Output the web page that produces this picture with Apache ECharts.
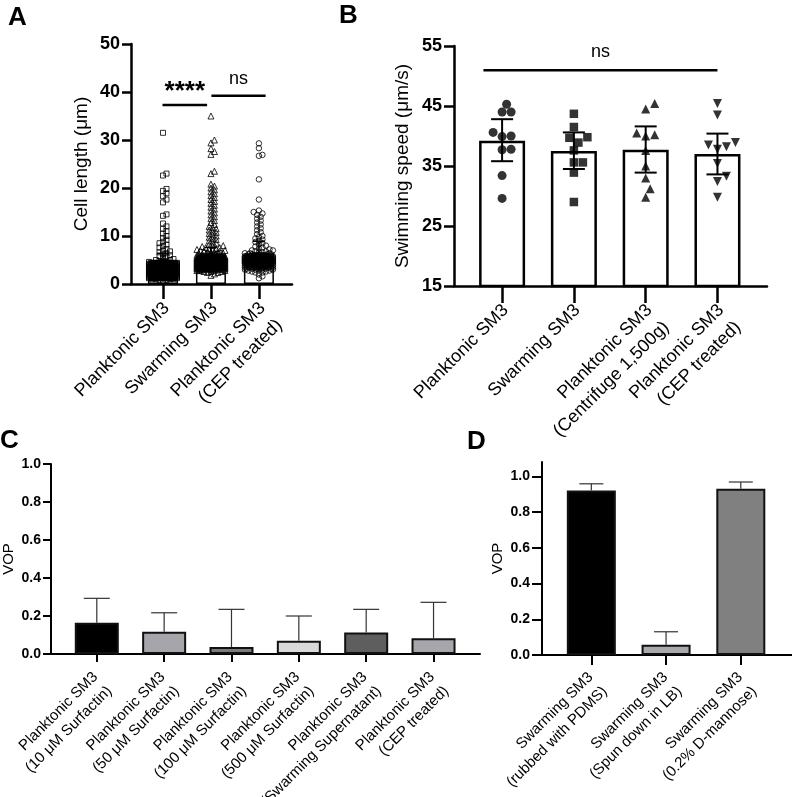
<!DOCTYPE html>
<html><head><meta charset="utf-8">
<script src="https://cdn.jsdelivr.net/npm/echarts@6/dist/echarts.min.js"></script>
<style>html,body{margin:0;padding:0;background:#fff}#c{width:792px;height:797px}</style>
</head><body><div id="c"></div>
<script>
// ---------- Panel A: cell length ----------
const catsA = ['Planktonic SM3', 'Swarming SM3', 'Planktonic SM3\n(CEP treated)'];
const meansA = [3.9, 5.3, 5.5];
const sdTopA = [6.4, 7.6, 8.9];
// [value, count]
const planktonicLen = [[0.6,1],[0.8,2],[1.0,4],[1.2,10],[1.3,14],[1.4,20],[1.6,22],[1.8,24],[2.0,24],[2.2,24],[2.4,24],[2.6,24],[2.8,24],[3.0,24],[3.2,24],[3.4,24],[3.6,24],[3.8,24],[4.0,22],[4.2,20],[4.4,16],[4.6,4],[4.8,2],[5.0,2],[5.2,1],[5.4,1],[5.6,1],[5.8,1],[6.0,1],[6.2,1],[6.4,1],[6.6,1],[6.8,1],[7.0,1],[7.3,1],[7.6,1],[7.9,1],[8.2,1],[8.5,1],[8.8,1],[9.2,1],[9.6,1],[10.0,1],[10.5,1],[11.0,1],[11.5,1],[12.0,1],[12.6,1],[14.2,1],[14.5,1],[17.0,1],[17.6,1],[18.3,1],[18.9,1],[19.4,1],[19.8,1],[22.6,1],[23.0,1],[31.5,1]];
const swarmingLen = [[1.8,1],[2.1,1],[2.4,2],[2.6,3],[2.8,4],[3.0,6],[3.2,10],[3.4,20],[3.6,24],[3.8,24],[4.0,24],[4.2,24],[4.4,24],[4.6,24],[4.8,24],[5.0,24],[5.2,24],[5.4,24],[5.6,22],[5.8,16],[6.0,6],[6.2,4],[6.4,3],[6.6,3],[6.8,2],[7.0,2],[7.2,2],[7.4,2],[7.6,2],[7.8,1],[8.0,2],[8.25,1],[8.5,1],[8.75,1],[9.0,1],[9.25,1],[9.5,1],[9.75,1],[10.0,1],[10.25,1],[10.5,1],[10.75,1],[11.0,1],[11.25,1],[11.5,1],[11.75,1],[12.0,1],[12.4,1],[12.8,1],[13.2,1],[13.6,1],[14.0,1],[14.4,1],[14.8,1],[15.2,1],[15.6,1],[16.0,1],[16.4,1],[16.8,1],[17.2,1],[17.6,1],[18.0,1],[18.4,1],[18.8,1],[19.2,1],[19.6,1],[20.0,1],[20.4,1],[20.8,1],[23.0,1],[23.5,1],[27.0,1],[27.6,1],[28.2,1],[29.4,1],[30.0,1],[35.0,1]];
const cepLen = [[1.2,1],[1.6,1],[2.0,1],[2.4,2],[2.6,2],[2.8,3],[3.0,4],[3.2,6],[3.4,8],[3.6,10],[3.8,12],[4.0,14],[4.2,18],[4.4,22],[4.6,24],[4.8,24],[5.0,24],[5.2,24],[5.4,24],[5.6,24],[5.8,22],[6.0,8],[6.2,4],[6.4,3],[6.6,2],[6.8,2],[7.0,2],[7.2,1],[7.4,1],[7.6,1],[7.8,1],[8.0,1],[8.25,1],[8.5,1],[8.75,1],[9.0,1],[9.25,1],[9.5,1],[9.75,1],[10.0,1],[10.4,1],[10.8,1],[11.2,1],[11.6,1],[12.0,1],[12.4,1],[12.8,1],[13.2,1],[13.6,1],[14.0,1],[14.4,1],[14.7,1],[15.0,1],[15.3,1],[17.6,1],[21.8,1],[26.7,1],[26.9,1],[28.3,1],[29.3,1]];
const ticksA = [0, 10, 20, 30, 40, 50];

// ---------- Panel B: swimming speed ----------
const catsB = ['Planktonic SM3', 'Swarming SM3', 'Planktonic SM3\n(Centrifuge 1,500g)', 'Planktonic SM3\n(CEP treated)'];
const meansB = [39.2, 37.5, 37.7, 37.0];
const sdLowB = [35.8, 34.5, 33.9, 33.6];
const sdHighB = [42.8, 40.6, 41.6, 40.4];
const speedPlanktonic = [45.3, 44.0, 44.0, 40.6, 39.9, 40.0, 37.8, 37.7, 33.4, 29.6];
const speedSwarming = [43.7, 41.5, 39.8, 39.7, 38.9, 37.6, 35.6, 35.6, 33.9, 29.0];
const speedCentrifuge = [45.4, 44.5, 40.5, 40.2, 40.0, 37.6, 35.0, 33.0, 31.2, 29.8];
const speedCEP = [45.4, 43.5, 38.9, 38.5, 38.2, 37.8, 35.4, 33.3, 32.4, 29.8];
const ticksB = [15, 25, 35, 45, 55];

// ---------- Panel C: VOP ----------
const catsC = ['Planktonic SM3\n(10 μM Surfactin)', 'Planktonic SM3\n(50 μM Surfactin)', 'Planktonic SM3\n(100 μM Surfactin)', 'Planktonic SM3\n(500 μM Surfactin)', 'Planktonic SM3\n(Swarming Supernatant)', 'Planktonic SM3\n(CEP treated)'];
const vopC = [0.165, 0.117, 0.037, 0.070, 0.113, 0.083];
const vopErrC = [0.293, 0.217, 0.235, 0.200, 0.235, 0.272];
const colorsC = ['#000000', '#a6a6aa', '#7b7b7b', '#d9d9d9', '#5e5e5e', '#a6a6ab'];

// ---------- Panel D: VOP ----------
const catsD = ['Swarming SM3\n(rubbed with PDMS)', 'Swarming SM3\n(Spun down in LB)', 'Swarming SM3\n(0.2% D-mannose)'];
const vopD = [0.920, 0.058, 0.930];
const vopErrD = [0.958, 0.130, 0.968];
const colorsD = ['#000000', '#a9a9ae', '#808080'];
const ticksCD = [0, 0.2, 0.4, 0.6, 0.8, 1.0];

// ---------- helpers ----------
const FONT = 'Liberation Sans, Arial, Helvetica, sans-serif';
function expand(bins) { const o = []; bins.forEach(([v, c]) => { for (let i = 0; i < c; i++) o.push(v); }); return o; }
// deterministic beeswarm layout in pixel space
function swarm(values, center, pxX, pxY, size, halfW, step) {
  const sorted = values.slice().sort((a, b) => a - b);
  const K = Math.floor(halfW / step);
  const cands = [0]; for (let k = 1; k <= K; k++) cands.push(k * step, -k * step);
  const placed = [], out = [];
  for (const v of sorted) {
    const y = v * pxY;
    let best = 0, bestD = -1;
    for (const c of cands) {
      let md = Infinity;
      for (let i = placed.length - 1; i >= 0; i--) {
        const p = placed[i];
        if (y - p.y > size) break;
        const d = Math.hypot(p.x - c, p.y - y);
        if (d < md) md = d;
      }
      if (md >= size) { best = c; bestD = md; break; }
      if (md > bestD) { bestD = md; best = c; }
    }
    placed.push({ x: best, y });
    out.push([center + best / pxX, v]);
  }
  return out;
}
function xAx(grid, min, max, n, cats, fs, tickLen, margin, padR) {
  const vals = []; for (let i = 0; i < n; i++) vals.push(i);
  return { gridIndex: grid, type: 'value', min, max,
    axisLine: { onZero: false, lineStyle: { color: '#000', width: grid < 2 ? 2.5 : 2 } },
    axisTick: { customValues: vals, length: tickLen, lineStyle: { color: '#000', width: grid < 2 ? 2.5 : 2 } },
    axisLabel: { customValues: vals, rotate: 45, margin, fontFamily: FONT, fontSize: fs, color: '#000', lineHeight: Math.round(fs * 1.35),
      align: 'right', verticalAlign: 'top', padding: [0, padR, 0, 0], hideOverlap: false, formatter: v => cats[Math.round(v)] },
    splitLine: { show: false } };
}
function yAx(grid, min, max, ticks, name, fs, nfs, gap, dec, tickLen, margin) {
  return { gridIndex: grid, type: 'value', min, max, name, nameLocation: 'middle', nameGap: gap, nameMoveOverlap: false,
    nameTextStyle: { fontFamily: FONT, fontSize: nfs, color: '#000' },
    axisLine: { show: true, onZero: false, lineStyle: { color: '#000', width: grid < 2 ? 2.5 : 2 } },
    axisTick: { show: true, customValues: ticks, length: tickLen, lineStyle: { color: '#000', width: grid < 2 ? 2.5 : 2 } },
    axisLabel: { customValues: ticks, fontFamily: FONT, fontSize: fs, fontWeight: 'bold', color: '#000', margin,
      formatter: v => dec ? v.toFixed(1) : String(v) },
    splitLine: { show: false } };
}
function errBars(xi, yi, rows, capHalf, lw, color) {
  return { type: 'custom', xAxisIndex: xi, yAxisIndex: yi, z: 5, data: rows,
    renderItem: (p, api) => {
      const x = api.value(0), lo = api.value(1), hi = api.value(2);
      const a = api.coord([x, lo]), b = api.coord([x, hi]);
      const st = { stroke: color, lineWidth: lw };
      const ch = [{ type: 'line', shape: { x1: a[0], y1: a[1], x2: b[0], y2: b[1] }, style: st },
                  { type: 'line', shape: { x1: b[0] - capHalf, y1: b[1], x2: b[0] + capHalf, y2: b[1] }, style: st }];
      if (api.value(3)) ch.push({ type: 'line', shape: { x1: a[0] - capHalf, y1: a[1], x2: a[0] + capHalf, y2: a[1] }, style: st });
      return { type: 'group', children: ch };
    } };
}
function sigLine(xi, yi, rows, fs, bold, lift) {
  return { type: 'custom', xAxisIndex: xi, yAxisIndex: yi, z: 6, data: rows,
    renderItem: (p, api) => {
      const a = api.coord([api.value(0), api.value(2)]), b = api.coord([api.value(1), api.value(2)]);
      return { type: 'group', children: [
        { type: 'line', shape: { x1: a[0], y1: a[1], x2: b[0], y2: b[1] }, style: { stroke: '#000', lineWidth: 2.5 } },
        { type: 'text', x: (a[0] + b[0]) / 2, y: a[1] - lift, style: { text: rows[p.dataIndex][3], fontFamily: FONT, fontSize: fs,
          fontWeight: bold ? 'bold' : 'normal', fill: '#000', align: 'center', verticalAlign: 'bottom' } } ] };
    } };
}

// pixel scales of panels A and B (used only for swarm spacing)
const pxXA = 161 / (2.69 + 0.667), pxYA = 240 / 50;
const pxXB = 313 / (3.69 + 0.67), pxYB = 240 / 40;

const hollow = { color: 'rgba(0,0,0,0)', borderColor: '#000', borderWidth: 1 };

const option = {
  animation: false,
  backgroundColor: '#fff',
  grid: [
    { left: 131, top: 44, width: 161, height: 240, outerBoundsMode: 'none', containLabel: false },
    { left: 454, top: 46, width: 313, height: 240, outerBoundsMode: 'none', containLabel: false },
    { left: 51, top: 464, width: 429, height: 190, outerBoundsMode: 'none', containLabel: false },
    { left: 542, top: 462, width: 250, height: 193, outerBoundsMode: 'none', containLabel: false }
  ],
  xAxis: [
    xAx(0, -0.667, 2.69, 3, catsA, 18, 15, 8, 7),
    xAx(1, -0.67, 3.69, 4, catsB, 18, 17, 8, 7),
    xAx(2, -0.68, 5.69, 6, catsC, 15, 8, 5, 12),
    xAx(3, -0.66, 2.685, 3, catsD, 15, 10, 5, 11)
  ],
  yAxis: [
    yAx(0, 0, 50, ticksA, 'Cell length (μm)', 18, 19, 40, false, 9, 11),
    yAx(1, 15, 55, ticksB, 'Swimming speed (μm/s)', 18, 19, 42, false, 10, 12),
    yAx(2, 0, 1.0, ticksCD, 'VOP', 14, 15, 35, true, 8, 10),
    yAx(3, 0, 1.08, ticksCD, 'VOP', 14, 15, 37, true, 10, 12)
  ],
  graphic: [
    { type: 'text', left: 8, top: 5, style: { text: 'A', fontFamily: FONT, fontSize: 26, fontWeight: 'bold', fill: '#000' } },
    { type: 'text', left: 339, top: 3, style: { text: 'B', fontFamily: FONT, fontSize: 26, fontWeight: 'bold', fill: '#000' } },
    { type: 'text', left: 0, top: 428, style: { text: 'C', fontFamily: FONT, fontSize: 26, fontWeight: 'bold', fill: '#000' } },
    { type: 'text', left: 467, top: 429, style: { text: 'D', fontFamily: FONT, fontSize: 26, fontWeight: 'bold', fill: '#000' } }
  ],
  series: [
    // Panel A
    { type: 'bar', xAxisIndex: 0, yAxisIndex: 0, barWidth: 30, z: 1,
      itemStyle: { color: '#fff', borderColor: '#000', borderWidth: 1.5 },
      data: meansA.map((v, i) => [i, v]) },
    { type: 'scatter', xAxisIndex: 0, yAxisIndex: 0, symbol: 'rect', symbolSize: 5, z: 3, itemStyle: hollow, large: false,
      data: swarm(expand(planktonicLen), 0, pxXA, pxYA, 3.5, 14, 1.75) },
    { type: 'scatter', xAxisIndex: 0, yAxisIndex: 0, symbol: 'triangle', symbolSize: 6, z: 3, itemStyle: hollow, large: false,
      data: swarm(expand(swarmingLen), 1, pxXA, pxYA, 3.5, 15, 1.75) },
    { type: 'scatter', xAxisIndex: 0, yAxisIndex: 0, symbol: 'circle', symbolSize: 5.5, z: 3, itemStyle: hollow, large: false,
      data: swarm(expand(cepLen), 2, pxXA, pxYA, 3.5, 15, 1.75) },
    errBars(0, 0, meansA.map((m, i) => [i, m, sdTopA[i], 0]), 6, 1.5, '#000'),
    sigLine(0, 0, [[-0.01, 0.92, 37.3, '****']], 26, true, 0),
    sigLine(0, 0, [[1.01, 2.14, 39.2, 'ns']], 18, false, 8),
    // Panel B
    { type: 'bar', xAxisIndex: 1, yAxisIndex: 1, barWidth: 46, z: 1,
      itemStyle: { color: '#fff', borderColor: '#000', borderWidth: 2.5 },
      data: meansB.map((v, i) => [i, v]) },
    errBars(1, 1, meansB.map((m, i) => [i, sdLowB[i], sdHighB[i], 1]), 11, 2, '#000'),
    { type: 'scatter', xAxisIndex: 1, yAxisIndex: 1, symbol: 'circle', symbolSize: 9, z: 4, itemStyle: { color: '#000' },
      data: swarm(speedPlanktonic, 0, pxXB, pxYB, 9, 18, 4.5) },
    { type: 'scatter', xAxisIndex: 1, yAxisIndex: 1, symbol: 'rect', symbolSize: 8.5, z: 4, itemStyle: { color: '#000' },
      data: swarm(speedSwarming, 1, pxXB, pxYB, 9, 18, 4.5) },
    { type: 'scatter', xAxisIndex: 1, yAxisIndex: 1, symbol: 'triangle', symbolSize: 9, z: 4, itemStyle: { color: '#000' },
      data: swarm(speedCentrifuge, 2, pxXB, pxYB, 9, 18, 4.5) },
    { type: 'scatter', xAxisIndex: 1, yAxisIndex: 1, symbol: 'triangle', symbolRotate: 180, symbolSize: 9, z: 4, itemStyle: { color: '#000' },
      data: swarm(speedCEP, 3, pxXB, pxYB, 9, 18, 4.5) },
    sigLine(1, 1, [[-0.26, 3.0, 50.95, 'ns']], 18, false, 9),
    // Panel C
    { type: 'bar', xAxisIndex: 2, yAxisIndex: 2, barWidth: 44, z: 2,
      data: vopC.map((v, i) => ({ value: [i, v], itemStyle: { color: colorsC[i], borderColor: '#111', borderWidth: 2 } })) },
    errBars(2, 2, vopC.map((m, i) => [i, m, vopErrC[i], 0]), 13, 1.2, '#333'),
    // Panel D
    { type: 'bar', xAxisIndex: 3, yAxisIndex: 3, barWidth: 49, z: 2,
      data: vopD.map((v, i) => ({ value: [i, v], itemStyle: { color: colorsD[i], borderColor: '#111', borderWidth: 2 } })) },
    errBars(3, 3, vopD.map((m, i) => [i, m, vopErrD[i], 0]), 12, 1.2, '#333')
  ]
};
const chart = echarts.init(document.getElementById('c'));
chart.setOption(option);
</script>
</body></html>
